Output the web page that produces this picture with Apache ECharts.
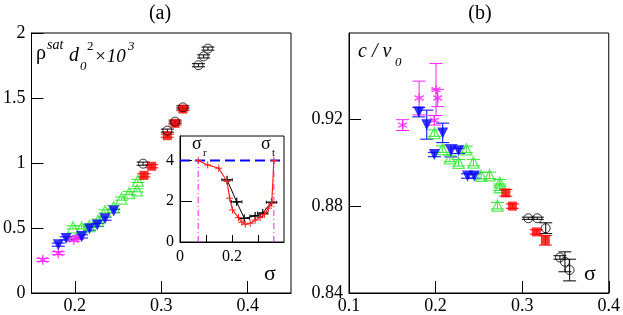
<!DOCTYPE html>
<html><head><meta charset="utf-8">
<script src="https://cdn.jsdelivr.net/npm/echarts@6/dist/echarts.min.js"></script>
<style>html,body{margin:0;padding:0;background:#fff}#c{width:623px;height:315px}</style>
</head><body><div id="c"></div>
<script>
// ---------- Panel (a): rho_sat d0^2 x 10^3 vs sigma ----------
const magA_x = [0.163, 0.181, 0.199, 0.203];
const magA_y = [0.255, 0.306, 0.410, 0.425];
const bluA_x = [0.181, 0.190, 0.208, 0.217, 0.226, 0.235, 0.245];
const bluA_y = [0.372, 0.420, 0.435, 0.495, 0.523, 0.572, 0.630];
const grnA_x = [0.198, 0.208, 0.217, 0.227, 0.235, 0.245, 0.254, 0.263, 0.272, 0.273];
const grnA_y = [0.505, 0.505, 0.515, 0.556, 0.628, 0.660, 0.726, 0.768, 0.790, 0.862];
const redA_x = [0.280, 0.289, 0.307, 0.316, 0.325];
const redA_y = [0.905, 0.975, 1.210, 1.305, 1.415];
const blkA_x = [0.279, 0.307, 0.316, 0.325, 0.343, 0.349, 0.354];
const blkA_y = [0.995, 1.249, 1.318, 1.428, 1.752, 1.820, 1.880];
const errA = 0.012;
const ticksAx = [0.2, 0.3, 0.4];
const ticksAy = [0, 0.5, 1, 1.5, 2];

// ---------- Inset ----------
const insRed_x = [0.070, 0.1065, 0.149, 0.181, 0.191, 0.202, 0.225, 0.238, 0.251, 0.270, 0.289, 0.308, 0.325, 0.340, 0.353, 0.361];
const insRed_y = [4.00, 3.78, 3.62, 2.97, 2.15, 1.57, 1.20, 0.97, 0.87, 0.92, 1.07, 1.20, 1.36, 1.66, 1.90, 4.00];
const insBlk_x = [0.181, 0.218, 0.247, 0.289, 0.318, 0.352];
const insBlk_y = [3.05, 1.97, 1.16, 1.28, 1.42, 1.95];
const insBlk_err = 0.02;
const sigmaR = 0.070, sigmaT = 0.361, plateau = 4.0;
const insTicksX = [0.1, 0.2, 0.3];
const insLabelsX = [0, 0.2];
const insTicksY = [2, 4];
const insLabelsY = [0, 2, 4];

// ---------- Panel (b): c / v0 vs sigma ----------
const magB_x = [0.162, 0.181, 0.1986, 0.2005, 0.2024];
const magB_y = [0.9175, 0.9300, 0.9197, 0.9339, 0.9300];
const magB_e = [0.0025, 0.0078, 0.0022, 0.0120, 0.0040];
const bluB_x = [0.1806, 0.1898, 0.2082, 0.1986, 0.2178, 0.2266, 0.2369, 0.2447];
const bluB_y = [0.9235, 0.9177, 0.9139, 0.9039, 0.9056, 0.9056, 0.8940, 0.8940];
const bluB_e = [0.0022, 0.0067, 0.0045, 0.0010, 0.0028, 0.0012, 0.0010, 0.0010];
const grnB_x = [0.1986, 0.2078, 0.2165, 0.2266, 0.2355, 0.2437, 0.2527, 0.2623, 0.2742, 0.2742, 0.2715];
const grnB_y = [0.9138, 0.9064, 0.9021, 0.9001, 0.9063, 0.9002, 0.8941, 0.8943, 0.8909, 0.8888, 0.8803];
const grnB_e = [0.0015, 0.0015, 0.0015, 0.0015, 0.0015, 0.0015, 0.0015, 0.0015, 0.0015, 0.0015, 0.0015];
const redB_x = [0.2811, 0.2887, 0.3163, 0.3268];
const redB_y = [0.8862, 0.8801, 0.8682, 0.8643];
const redB_e = [0.0015, 0.0010, 0.0010, 0.0022];
const blkB_x = [0.3071, 0.3175, 0.3272, 0.3436, 0.3494, 0.3548];
const blkB_y = [0.8745, 0.8745, 0.8699, 0.8564, 0.8544, 0.8506];
const blkB_e = [0.0005, 0.0005, 0.0025, 0.0008, 0.0046, 0.0050];
const ticksBx = [0.1, 0.2, 0.3, 0.4];
const ticksBy = [0.84, 0.88, 0.92];

// ---------- styles ----------
const SERIF = '"Liberation Serif","Times New Roman",serif';
const MAG = '#ff22ff', BLU = '#0000ff', GRN = '#33e833', RED = '#ff0000', BLK = '#000000';
const STAR = 'path://M0,-10L0,10M-8.66,-5L8.66,5M-8.66,5L8.66,-5';
const PLUS = 'path://M-10,0L10,0M0,-10L0,10';

const chart = echarts.init(document.getElementById('c'), null, {renderer: 'canvas'});

function zip(xs, ys, es) {
  return xs.map((x, i) => es === undefined ? [x, ys[i]] : [x, ys[i], Array.isArray(es) ? es[i] : es]);
}
function vErr(color, hw) {
  return function (params, api) {
    const x = api.value(0), y = api.value(1), e = api.value(2);
    const a = api.coord([x, y + e]), b = api.coord([x, y - e]);
    const st = {stroke: color, lineWidth: 1};
    return {type: 'group', children: [
      {type: 'line', shape: {x1: a[0], y1: a[1], x2: b[0], y2: b[1]}, style: st},
      {type: 'line', shape: {x1: a[0] - hw, y1: a[1], x2: a[0] + hw, y2: a[1]}, style: st},
      {type: 'line', shape: {x1: b[0] - hw, y1: b[1], x2: b[0] + hw, y2: b[1]}, style: st}
    ]};
  };
}
function hErr(color, hh) {
  return function (params, api) {
    const x = api.value(0), y = api.value(1), e = api.value(2);
    const a = api.coord([x - e, y]), b = api.coord([x + e, y]);
    const st = {stroke: color, lineWidth: 1};
    return {type: 'group', children: [
      {type: 'line', shape: {x1: a[0], y1: a[1], x2: b[0], y2: b[1]}, style: st},
      {type: 'line', shape: {x1: a[0], y1: a[1] - hh, x2: a[0], y2: a[1] + hh}, style: st},
      {type: 'line', shape: {x1: b[0], y1: b[1] - hh, x2: b[0], y2: b[1] + hh}, style: st}
    ]};
  };
}
function errSeries(ax, data, render, z) {
  return {type: 'custom', xAxisIndex: ax, yAxisIndex: ax, data: data, renderItem: render,
    encode: {x: 0, y: 1}, silent: true, z: z || 2};
}
function scat(ax, data, kind, size) {
  const s = {type: 'scatter', xAxisIndex: ax, yAxisIndex: ax, data: data, symbolSize: size, z: 3, silent: true};
  if (kind === 'star') { s.symbol = STAR; s.itemStyle = {color: MAG, borderColor: MAG, borderWidth: 1.4}; }
  if (kind === 'down') { s.symbol = 'triangle'; s.symbolRotate = 180; s.itemStyle = {color: BLU}; }
  if (kind === 'up') { s.symbol = 'triangle'; s.itemStyle = {color: 'rgba(255,255,255,0)', borderColor: GRN, borderWidth: 1.3}; }
  if (kind === 'sq') { s.symbol = 'rect'; s.itemStyle = {color: RED}; }
  if (kind === 'circ') { s.symbol = 'circle'; s.itemStyle = {color: 'rgba(255,255,255,0)', borderColor: BLK, borderWidth: 1}; }
  return s;
}
function axis(gi, min, max, ticks, labels, fs, margin, tickLen) {
  return {type: 'value', gridIndex: gi, min: min, max: max, z: gi === 2 ? 5 : 0,
    axisLine: {show: true, onZero: false, lineStyle: {color: '#000', width: 1}},
    axisTick: {show: true, inside: true, length: tickLen, customValues: ticks, lineStyle: {color: '#000', width: 1}},
    axisLabel: {customValues: labels, color: '#000', fontFamily: SERIF, fontSize: fs, margin: margin},
    splitLine: {show: false}};
}

function txt(x, y, s, size, italic, align) {
  return {type: 'text', x: x, y: y, z: 20, silent: true,
    style: {text: s, fill: '#000', font: (italic ? 'italic ' : '') + size + 'px ' + SERIF,
      textAlign: align || 'left', textVerticalAlign: 'bottom'}};
}

const option = {
  animation: false,
  backgroundColor: '#fff',
  grid: [
    {left: 30, top: 33, width: 261, height: 261, show: true, borderColor: '#000', borderWidth: 1, backgroundColor: 'transparent'},
    {left: 349, top: 33, width: 261, height: 261, show: true, borderColor: '#000', borderWidth: 1, backgroundColor: 'transparent'},
    {left: 180, top: 136, width: 104, height: 106, show: true, borderColor: '#000', borderWidth: 1, backgroundColor: '#fff', z: 4}
  ],
  xAxis: [
    axis(0, 0.15, 0.45, ticksAx, ticksAx, 18, 4, 12),
    axis(1, 0.1, 0.4, ticksBx, ticksBx, 18, 4, 12),
    axis(2, 0, 0.4, insTicksX, insLabelsX, 16, 7, 7)
  ],
  yAxis: [
    axis(0, 0, 2, ticksAy, ticksAy, 18, 6, 12),
    axis(1, 0.84, 0.96, ticksBy, ticksBy, 18, 6, 12),
    axis(2, 0, 5.2, insTicksY, insLabelsY, 16, 6, 12)
  ],
  series: [
    // panel (a)
    errSeries(0, zip(magA_x, magA_y, errA), vErr(MAG, 6.5)),
    errSeries(0, zip(bluA_x, bluA_y, errA), vErr(BLU, 6.5)),
    errSeries(0, zip(grnA_x, grnA_y, errA), vErr(GRN, 6.5)),
    errSeries(0, zip(redA_x, redA_y, errA), vErr(RED, 6.5)),
    errSeries(0, zip(blkA_x, blkA_y, errA), vErr(BLK, 6.5)),
    scat(0, zip(magA_x, magA_y), 'star', 10),
    scat(0, zip(grnA_x, grnA_y), 'up', 11),
    scat(0, zip(bluA_x, bluA_y), 'down', 11),
    scat(0, zip(redA_x, redA_y), 'sq', 9),
    scat(0, zip(blkA_x, blkA_y), 'circ', 9),
    // panel (b)
    errSeries(1, zip(magB_x, magB_y, magB_e), vErr(MAG, 6.5)),
    errSeries(1, zip(bluB_x, bluB_y, bluB_e), vErr(BLU, 6.5)),
    errSeries(1, zip(grnB_x, grnB_y, grnB_e), vErr(GRN, 6.5)),
    errSeries(1, zip(redB_x, redB_y, redB_e), vErr(RED, 6.5)),
    errSeries(1, zip(blkB_x, blkB_y, blkB_e), vErr(BLK, 6.5)),
    scat(1, zip(magB_x, magB_y), 'star', 9),
    scat(1, zip(grnB_x, grnB_y), 'up', 11),
    scat(1, zip(bluB_x, bluB_y), 'down', 11),
    scat(1, zip(redB_x, redB_y), 'sq', 9),
    scat(1, zip(blkB_x, blkB_y), 'circ', 9),
    // inset
    {type: 'line', xAxisIndex: 2, yAxisIndex: 2, data: [[0, plateau], [0.4, plateau]], symbol: 'none', z: 6, silent: true,
      lineStyle: {color: BLU, width: 2, type: [10, 5]}},
    {type: 'line', xAxisIndex: 2, yAxisIndex: 2, data: [[sigmaR, 0], [sigmaR, plateau]], symbol: 'none', z: 6, silent: true,
      lineStyle: {color: MAG, width: 1, type: [6, 3, 1, 3]}},
    {type: 'line', xAxisIndex: 2, yAxisIndex: 2, data: [[sigmaT, 0], [sigmaT, plateau]], symbol: 'none', z: 6, silent: true,
      lineStyle: {color: MAG, width: 1, type: [6, 3, 1, 3]}},
    errSeries(2, zip(insBlk_x, insBlk_y, insBlk_err), hErr(BLK, 1.5), 7),
    {type: 'line', xAxisIndex: 2, yAxisIndex: 2, data: zip(insBlk_x, insBlk_y), z: 7, silent: true,
      symbol: PLUS, symbolSize: 8, showAllSymbol: true,
      lineStyle: {color: BLK, width: 1}, itemStyle: {color: BLK, borderColor: BLK, borderWidth: 1.2}},
    {type: 'line', xAxisIndex: 2, yAxisIndex: 2, data: zip(insRed_x, insRed_y), z: 8, silent: true,
      symbol: PLUS, symbolSize: 7, showAllSymbol: true,
      lineStyle: {color: '#ff2020', width: 1.2}, itemStyle: {color: '#ff2020', borderColor: '#ff2020', borderWidth: 1}}
  ],
  graphic: [
    txt(160, 24, '(a)', 20, false, 'center'),
    txt(480, 24, '(b)', 20, false, 'center'),
    // rho^sat d_0^2 x 10^3
    txt(36, 64, 'ρ', 20, false),
    txt(47, 52, 'sat', 14, true),
    txt(69, 66, 'd', 20, true),
    txt(80, 73, '0', 13, true),
    txt(87, 53, '2', 13, false),
    txt(94, 66, '×10', 19, true),
    txt(128, 53, '3', 13, true),
    // c / v0
    txt(358, 62, 'c / v', 20, true),
    txt(395, 69, '0', 13, true),
    // sigma axis labels
    txt(264, 285, 'σ', 22, false),
    txt(584, 285, 'σ', 22, false),
    // inset sigma_r, sigma_t
    txt(192, 153, 'σ', 18, false),
    txt(203, 159, 'r', 11, false),
    txt(261, 153, 'σ', 18, false),
    txt(272, 159, 't', 11, false)
  ]
};
chart.setOption(option);
</script></body></html>
